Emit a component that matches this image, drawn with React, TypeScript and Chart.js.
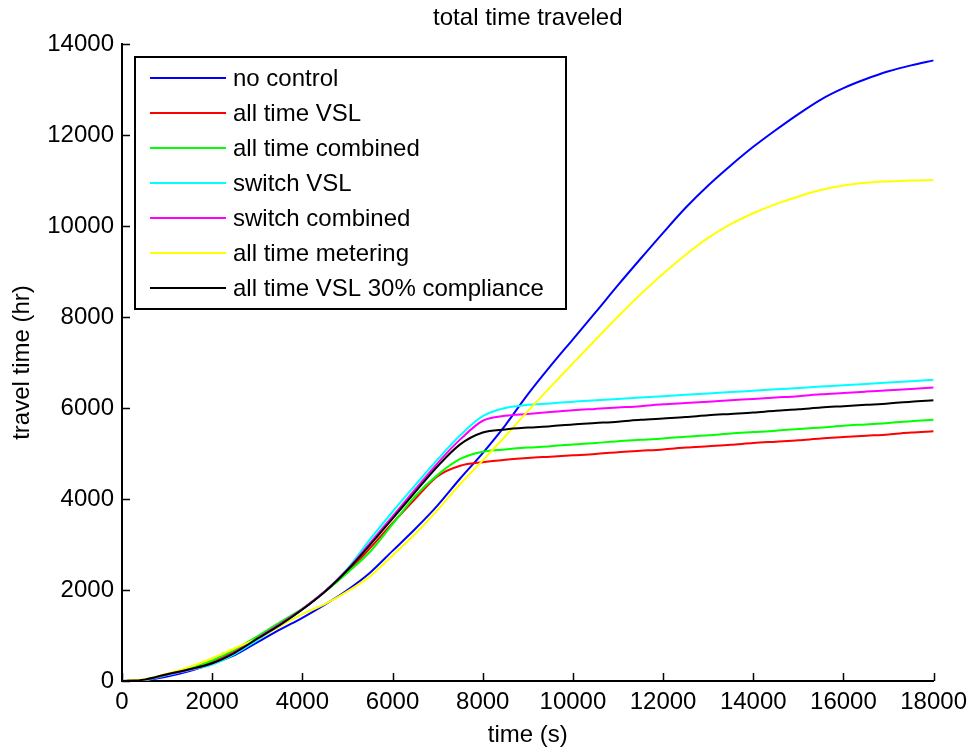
import React, { useEffect, useRef } from "react";
import { Chart, registerables } from "chart.js";

Chart.register(...registerables);

const TITLE = "total time traveled";
const X_LABEL = "time (s)";
const Y_LABEL = "travel time (hr)";

const timeS = [
  0, 500, 1000, 1500, 2000, 2500, 3000, 3500, 4000, 4500, 5000, 5500, 6000, 6500, 7000, 7500, 8000, 8500,
  9000, 9500, 10000, 10500, 11000, 11500, 12000, 12500, 13000, 13500, 14000, 14500, 15000, 15500, 16000,
  16500, 17000, 17500, 18000,
];

const noControl = [
  0, 20, 100, 220, 380, 570, 850, 1130, 1390, 1680, 2000, 2380, 2860, 3340, 3860, 4450, 5010, 5620,
  6300, 6920, 7510, 8100, 8700, 9280, 9850, 10400, 10890, 11330, 11740, 12110, 12460, 12780, 13030,
  13230, 13400, 13530, 13640,
];
const allTimeVSL = [
  0, 30, 150, 270, 420, 660, 960, 1270, 1580, 1970, 2400, 2920, 3470, 4000, 4500, 4730, 4810, 4860,
  4900, 4930, 4960, 4990, 5030, 5060, 5090, 5130, 5160, 5190, 5230, 5260, 5290, 5330, 5360,
  5390, 5420, 5460, 5490,
];
const allTimeCombined = [
  0, 30, 150, 280, 450, 690, 980, 1290, 1590, 1960, 2380, 2840, 3450, 4060, 4530, 4880, 5040, 5090,
  5130, 5160, 5200, 5230, 5270, 5300, 5330, 5370, 5400, 5440, 5470, 5500, 5540, 5570, 5610,
  5640, 5670, 5710, 5740,
];
const switchVSL = [
  0, 20, 130, 240, 360, 590, 900, 1220, 1570, 1970, 2470, 3110, 3720, 4300, 4870, 5400, 5820, 6000,
  6070, 6100, 6140, 6170, 6200, 6230, 6260, 6290, 6320, 6350, 6380, 6410, 6440, 6470, 6500,
  6530, 6560, 6590, 6620,
];
const switchCombined = [
  0, 25, 140, 250, 390, 630, 940, 1250, 1580, 1970, 2450, 3030, 3620, 4210, 4790, 5310, 5720, 5830,
  5870, 5910, 5950, 5980, 6010, 6040, 6080, 6110, 6140, 6170, 6200, 6230, 6260, 6300, 6330,
  6360, 6390, 6420, 6450,
];
const allTimeMetering = [
  0, 40, 160, 310, 500, 720, 930, 1200, 1470, 1690, 1970, 2300, 2760, 3230, 3760, 4330, 4850, 5380,
  5930, 6460, 6980, 7500, 8010, 8500, 8950, 9370, 9740, 10040, 10280, 10480, 10650, 10790, 10890,
  10950, 10980, 11000, 11010,
];
const allTimeVSL30 = [
  0, 30, 150, 260, 390, 620, 930, 1230, 1570, 1960, 2440, 2990, 3570, 4150, 4720, 5200, 5460, 5530,
  5570, 5600, 5640, 5670, 5700, 5740, 5770, 5800, 5840, 5870, 5900, 5940, 5970, 6010, 6040,
  6070, 6100, 6140, 6170,
];

const seriesNames = [
  "no control",
  "all time VSL",
  "all time combined",
  "switch VSL",
  "switch combined",
  "all time metering",
  "all time VSL 30% compliance",
];
const seriesColors = ["#0000ff", "#ff0000", "#00ff00", "#00ffff", "#ff00ff", "#ffff00", "#000000"];
const seriesValues = [
  noControl,
  allTimeVSL,
  allTimeCombined,
  switchVSL,
  switchCombined,
  allTimeMetering,
  allTimeVSL30,
];

const xTicks = [0, 2000, 4000, 6000, 8000, 10000, 12000, 14000, 16000, 18000];
const yTicks = [0, 2000, 4000, 6000, 8000, 10000, 12000, 14000];

const FONT = '"Liberation Sans", Arial, Helvetica, sans-serif';
const FS = 24;

const matlabPlugin = {
  id: "matlabDecor",
  afterDraw(chart: any) {
    const ctx = chart.ctx;
    const area = chart.chartArea;
    const xs = chart.scales.x;
    const ys = chart.scales.y;
    ctx.save();
    // inward ticks
    ctx.strokeStyle = "#000";
    ctx.lineWidth = 1.5;
    ctx.beginPath();
    xTicks.forEach((v) => {
      const px = Math.round(xs.getPixelForValue(v)) + 0.5;
      ctx.moveTo(px, area.bottom);
      ctx.lineTo(px, area.bottom - 8);
    });
    yTicks.forEach((v) => {
      const py = Math.round(ys.getPixelForValue(v)) + 0.5;
      ctx.moveTo(area.left, py);
      ctx.lineTo(area.left + 8, py);
    });
    ctx.stroke();

    // title and axis labels
    ctx.fillStyle = "#000";
    ctx.font = `${FS}px ${FONT}`;
    ctx.textAlign = "center";
    ctx.textBaseline = "alphabetic";
    const cx = (area.left + area.right) / 2;
    ctx.fillText(TITLE, cx, 25);
    ctx.fillText(X_LABEL, cx, 742);
    ctx.save();
    ctx.translate(29, (area.top + area.bottom) / 2);
    ctx.rotate(-Math.PI / 2);
    ctx.fillText(Y_LABEL, 0, 0);
    ctx.restore();

    // legend box
    const bx = 135, by = 57, bw = 431, bh = 252;
    ctx.fillStyle = "#fff";
    ctx.fillRect(bx, by, bw, bh);
    ctx.lineWidth = 2;
    ctx.strokeStyle = "#000";
    ctx.strokeRect(bx, by, bw, bh);
    ctx.textAlign = "left";
    ctx.textBaseline = "middle";
    chart.data.datasets.forEach((ds: any, i: number) => {
      const y = 78 + i * 35;
      ctx.strokeStyle = ds.borderColor;
      ctx.lineWidth = 2;
      ctx.beginPath();
      ctx.moveTo(150, y);
      ctx.lineTo(226, y);
      ctx.stroke();
      ctx.fillStyle = "#000";
      ctx.fillText(ds.label, 233, y + 1);
    });
    ctx.restore();
  },
};

export default function App() {
  const canvasRef = useRef<HTMLCanvasElement | null>(null);

  useEffect(() => {
    if (!canvasRef.current) return;
    const datasets = seriesNames.map((name, i) => ({
      label: name,
      data: timeS.map((t, j) => ({ x: t, y: seriesValues[i][j] })),
      borderColor: seriesColors[i],
      backgroundColor: seriesColors[i],
      borderWidth: 2,
      pointRadius: 0,
      fill: false,
      cubicInterpolationMode: "monotone" as const,
      order: seriesNames.length - i,
    }));
    const chart = new Chart(canvasRef.current, {
      type: "line",
      data: { datasets },
      options: {
        animation: false,
        responsive: false,
        maintainAspectRatio: false,
        layout: { padding: { top: 44, right: 36, left: 0, bottom: 0 } },
        plugins: {
          legend: { display: false },
          title: { display: false },
          tooltip: { enabled: false },
        },
        scales: {
          x: {
            type: "linear",
            min: 0,
            max: 18000,
            afterFit: (s: any) => {
              s.height = 67;
            },
            afterBuildTicks: (s: any) => {
              s.ticks = xTicks.map((v) => ({ value: v }));
            },
            grid: { display: false, drawTicks: false, tickLength: 0 },
            border: { display: true, color: "#000", width: 2 },
            ticks: {
              padding: 7,
              maxRotation: 0,
              autoSkip: false,
              color: "#000",
              font: { family: FONT, size: FS },
              callback: (v: any) => String(v),
            },
          },
          y: {
            type: "linear",
            min: 0,
            max: 14000,
            afterFit: (s: any) => {
              s.width = 122;
            },
            afterBuildTicks: (s: any) => {
              s.ticks = yTicks.map((v) => ({ value: v }));
            },
            grid: { display: false, drawTicks: false, tickLength: 0 },
            border: { display: true, color: "#000", width: 2 },
            ticks: {
              padding: 8,
              autoSkip: false,
              color: "#000",
              font: { family: FONT, size: FS },
              callback: (v: any) => String(v),
            },
          },
        },
      },
      plugins: [matlabPlugin],
    });
    return () => chart.destroy();
  }, []);

  return (
    <div style={{ position: "absolute", left: 0, top: 0, width: 974, height: 748, background: "#fff" }}>
      <canvas ref={canvasRef} width={974} height={748} />
    </div>
  );
}
